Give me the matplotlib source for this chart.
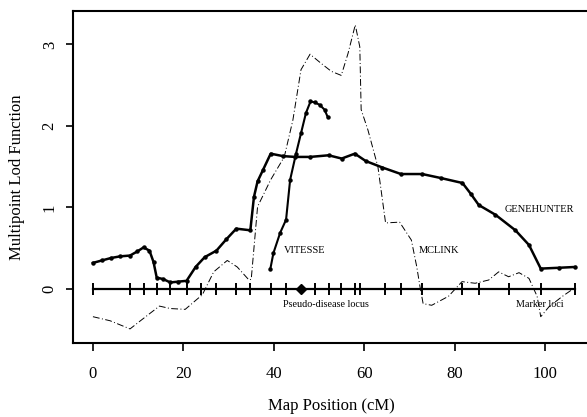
import matplotlib
matplotlib.use("Agg")
import matplotlib.pyplot as plt

plt.rcParams['font.family'] = ['Liberation Serif', 'DejaVu Serif']

# Marker loci positions (cM)
marker_loci = [0, 8.2, 11.2, 14.1, 17.1, 20.7, 24.0, 27.3, 31.7, 34.8, 39.3, 42.7,
               49.0, 52.1, 54.9, 57.9, 59.0, 64.6, 68.1, 72.8, 81.7, 85.3, 91.9, 99.0, 106.6]
disease_locus = 46.0

# GENEHUNTER
gh_x = [0, 2, 4, 6, 8.2, 9.8, 11.2, 12.5, 13.4, 14.1, 15.6, 17.1, 18.9, 20.7, 22.7, 24.7,
        27.3, 29.5, 31.7, 34.8, 35.6, 36.4, 37.6, 39.3, 42.0, 44.7, 48.0, 52.1, 55.0,
        57.9, 60.3, 64.0, 68.1, 72.8, 77.0, 81.7, 83.5, 85.3, 89.0, 93.4, 96.4, 99.0, 103.0, 106.6]
gh_y = [0.32, 0.35, 0.38, 0.40, 0.41, 0.46, 0.51, 0.47, 0.33, 0.14, 0.12, 0.08, 0.09, 0.10, 0.27, 0.39,
        0.47, 0.61, 0.74, 0.72, 1.13, 1.32, 1.46, 1.66, 1.63, 1.62, 1.62, 1.64, 1.60,
        1.66, 1.57, 1.49, 1.41, 1.41, 1.36, 1.30, 1.17, 1.03, 0.91, 0.72, 0.54, 0.25, 0.26, 0.27]

# VITESSE
vi_x = [39.2, 39.9, 41.4, 42.7, 43.6, 44.9, 46.0, 47.1, 48.1, 49.0, 50.1, 51.2, 51.9]
vi_y = [0.24, 0.44, 0.69, 0.85, 1.34, 1.66, 1.91, 2.16, 2.30, 2.29, 2.26, 2.20, 2.11]

# MCLINK
mc_x = [0, 3.8, 8.2, 11.2, 14.7, 17.1, 20.4, 24.2, 26.7, 29.7, 31.9, 34.5, 35.0, 36.4,
        39.3, 42.3, 44.2, 46.0, 48.0, 50.4, 52.7, 54.9, 56.4, 58.0, 59.0, 59.3, 60.8,
        63.0, 64.7, 67.8, 70.4, 71.6, 72.3, 73.0, 74.9, 78.6, 81.6, 84.5, 87.5, 89.7,
        91.9, 94.2, 96.4, 98.2, 99.0, 100.8, 103.8, 106.4]
mc_y = [-0.34, -0.39, -0.49, -0.36, -0.21, -0.24, -0.25, -0.07, 0.21, 0.35, 0.27, 0.11, 0.12, 1.01,
        1.34, 1.62, 2.07, 2.69, 2.88, 2.77, 2.67, 2.62, 2.89, 3.24, 2.97, 2.20, 1.95,
        1.50, 0.81, 0.82, 0.60, 0.27, 0.03, -0.18, -0.20, -0.09, 0.09, 0.07, 0.11, 0.21,
        0.15, 0.20, 0.13, -0.09, -0.34, -0.22, -0.09, 0.01]

x_ticks = [0, 20, 40, 60, 80, 100]
y_ticks = [0, 1, 2, 3]

fig = plt.figure(figsize=(5.87, 4.17), dpi=100)
ax = fig.add_axes([0.1244, 0.178, 0.88, 0.7956])

# baseline with marker loci
ax.plot([marker_loci[0], marker_loci[-1]], [0, 0], color='black', lw=1.6, zorder=3)
ax.plot(marker_loci, [0]*len(marker_loci), linestyle='none', marker='|',
        markersize=9, mew=1.4, color='black', zorder=3)
ax.plot([disease_locus], [0], marker='D', markersize=5, color='black', zorder=4)

ax.plot(mc_x, mc_y, color='black', lw=0.7, linestyle=(0, (7, 2.5, 1, 2.5)), zorder=2)
ax.plot(gh_x, gh_y, color='black', lw=1.8, marker='o', markersize=2.2, zorder=5)
ax.plot(vi_x, vi_y, color='black', lw=1.5, marker='o', markersize=2.2, zorder=5)

ax.text(46.9, 0.47, 'VITESSE', fontsize=7.5, ha='center', va='center')
ax.text(76.4, 0.47, 'MCLINK', fontsize=7.5, ha='center', va='center')
ax.text(98.6, 0.97, 'GENEHUNTER', fontsize=7.5, ha='center', va='center')
ax.text(51.6, -0.19, 'Pseudo-disease locus', fontsize=7.3, ha='center', va='center')
ax.text(98.8, -0.19, 'Marker loci', fontsize=7.3, ha='center', va='center')

ax.set_xlim(-4.4, 109.8)
ax.set_ylim(-0.66, 3.41)
ax.set_xticks(x_ticks)
ax.set_yticks(y_ticks)
ax.tick_params(axis='x', direction='out', length=6, width=1.2, pad=11, labelsize=12)
ax.tick_params(axis='y', direction='out', length=5, width=1.2, pad=6, labelsize=12)
for lab in ax.get_yticklabels():
    lab.set_rotation(90)
    lab.set_va('center')

ax.spines['right'].set_visible(False)
for s in ['top', 'bottom', 'left']:
    ax.spines[s].set_linewidth(1.5)

ax.set_xlabel('Map Position (cM)', fontsize=12, labelpad=11)
ax.set_ylabel('Multipoint Lod Function', fontsize=12, labelpad=12)

fig.savefig('out.png', dpi=100)
